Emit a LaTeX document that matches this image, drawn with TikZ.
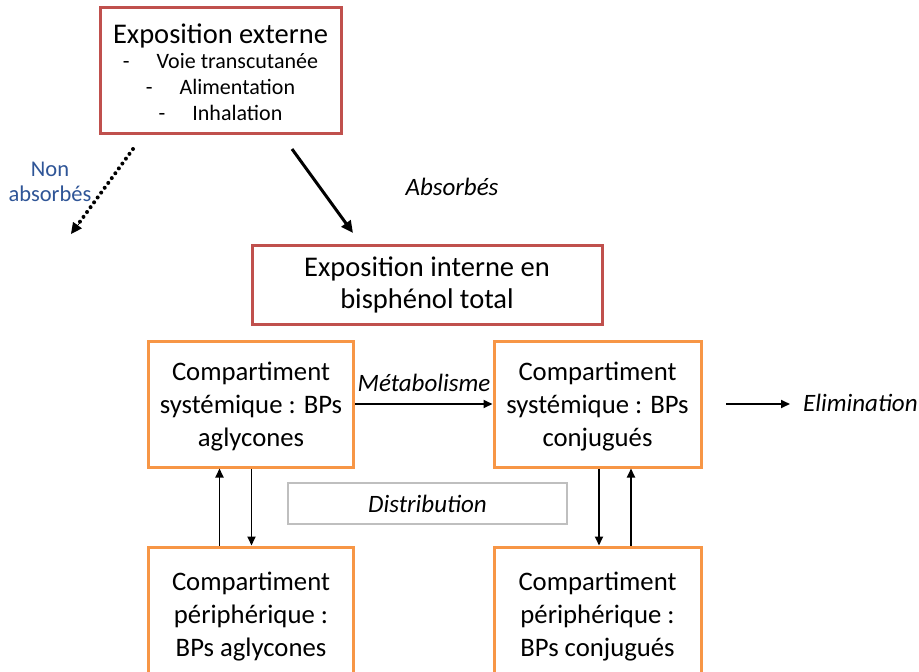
\documentclass[tikz,border=0pt]{standalone}
\usepackage{fontspec}
\setmainfont{Carlito}
\usetikzlibrary{arrows.meta,calc}
\definecolor{cred}{HTML}{C0504D}
\definecolor{corange}{HTML}{F79646}
\definecolor{cblue}{HTML}{2F5597}
\definecolor{cgray}{HTML}{BFBFBF}
\tikzset{
  redbox/.style={draw=cred,line width=3pt,align=center,inner sep=0pt,fill=white},
  orbox/.style={draw=corange,line width=3pt,align=center,inner sep=0pt,minimum width=205pt,minimum height=126pt,text depth=0pt,font=\fontsize{26.7}{33}\selectfont},
  arr/.style={line width=1.8pt,-{Triangle[length=9pt,width=8pt]}},
  lbl/.style={font=\fontsize{25}{30}\selectfont\itshape,inner sep=0pt}
}
\begin{document}
\begin{tikzpicture}[x=1pt,y=-1pt]
\clip (0,0) rectangle (919,672);
\useasboundingbox (0,0) rectangle (919,672);
\fill[white] (0,0) rectangle (919,672);
\node[redbox,minimum width=241pt,minimum height=126pt] (ext) at (220.5,70) {};
\node[inner sep=0pt,align=center,font=\fontsize{22}{26}\selectfont] (extt) at (220.5,72) {{\fontsize{28.5}{30}\selectfont Exposition externe}\\[-1pt]
-\hspace{27pt}Voie transcutanée\\
-\hspace{27pt}Alimentation\\
-\hspace{27pt}Inhalation};
\node[redbox,minimum width=350pt,minimum height=79pt,font=\fontsize{28.5}{32}\selectfont] (int) at (427,284.5) {Exposition interne en\\bisphénol total};
\node[orbox] (ls) at (251,404) {Compartiment\\systémique : BPs\\aglycones};
\node[orbox,minimum width=207pt] (rs) at (597.5,404) {Compartiment\\systémique : BPs\\conjugués};
\node[orbox,minimum height=134pt] (lp) at (251,614) {Compartiment\\périphérique :\\BPs aglycones};
\node[orbox,minimum width=207pt,minimum height=134pt] (rp) at (597.5,614) {Compartiment\\périphérique :\\BPs conjugués};
\node[draw=cgray,line width=1.2pt,minimum width=279pt,minimum height=41pt,inner sep=0pt,font=\fontsize{25}{30}\selectfont\itshape] (dist) at (427.5,503.5) {Distribution};
% labels
\node[inner sep=0pt,align=center,text=cblue,font=\fontsize{22.5}{25}\selectfont] (nonabs) at (50,182) {Non\\absorbés};
\node[lbl] (abs) at (452,187) {Absorbés};
\node[lbl] (meta) at (424,383) {Métabolisme};
\node[lbl,anchor=west] (elim) at (803,403) {Elimination};
% coordinates
\coordinate (n1) at (133,149);
\coordinate (n2) at (71,234);
\coordinate (a1) at (292,149);
\coordinate (a2) at (353,233);
\coordinate (e1) at (726,404);
\coordinate (e2) at (790,404);
\coordinate (xa) at (219.5,0);
\coordinate (xb) at (251.5,0);
\coordinate (xc) at (599,0);
\coordinate (xd) at (631,0);
% arrows
\draw[line width=4pt,line cap=round,dash pattern=on 0pt off 6pt,shorten >=7pt] (n1) -- (n2);
\draw[line width=0pt,-{Triangle[length=11pt,width=11pt]},fill=black] ($(n1)!0.85!(n2)$) -- (n2);
\draw[line width=3pt,-{Triangle[length=12pt,width=11pt]}] (a1) -- (a2);
\draw[arr] (ls.east) -- (rs.west);
\draw[arr] (e1) -- (e2);
\draw[arr] (lp.north -| xa) -- (ls.south -| xa);
\draw[arr] (ls.south -| xb) -- (lp.north -| xb);
\draw[arr] (rs.south -| xc) -- (rp.north -| xc);
\draw[arr] (rp.north -| xd) -- (rs.south -| xd);
\end{tikzpicture}
\end{document}
